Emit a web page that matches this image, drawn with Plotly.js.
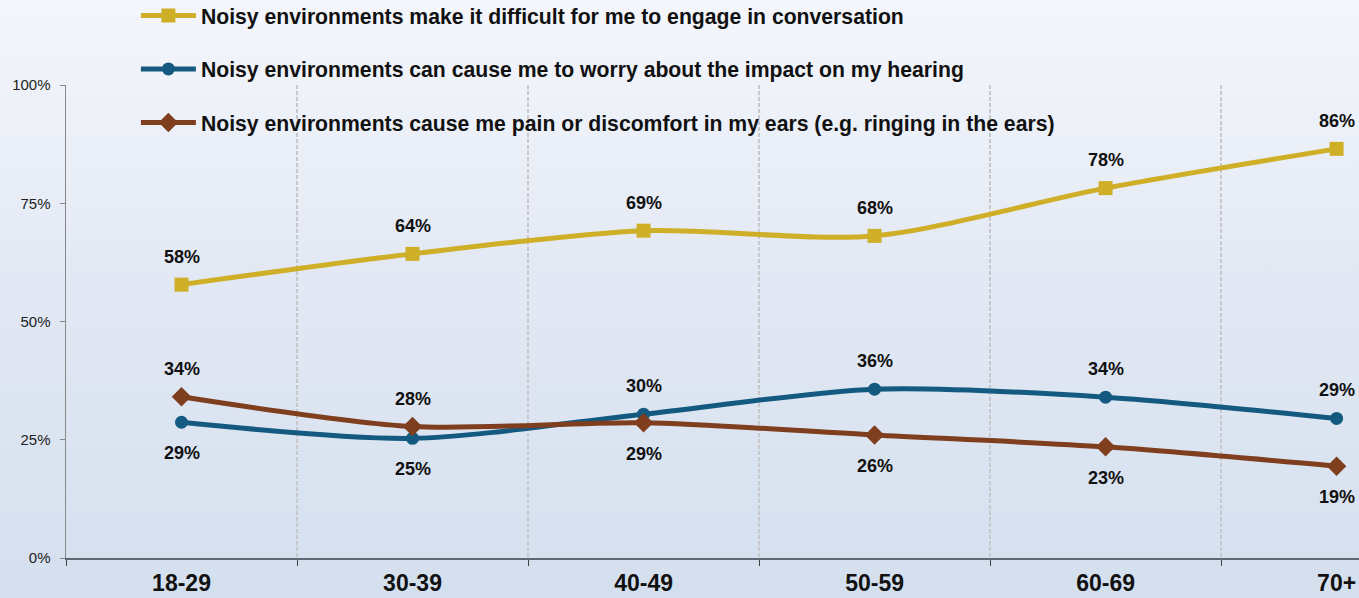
<!DOCTYPE html>
<html>
<head>
<meta charset="utf-8">
<script src="https://cdn.plot.ly/plotly-3.0.1.min.js"></script>
<style>
html,body{margin:0;padding:0;}
body{width:1359px;height:598px;background:linear-gradient(to bottom,#f4f6fb 0%,#e3e9f4 45%,#d4dfee 100%);}
#chart{width:1359px;height:598px;}
</style>
</head>
<body>
<div id="chart"></div>
<script>
const categories = ["18-29","30-39","40-49","50-59","60-69","70+"];
const seriesNames = [
  "Noisy environments make it difficult for me to engage in conversation",
  "Noisy environments can cause me to worry about the impact on my hearing",
  "Noisy environments cause me pain or discomfort in my ears (e.g. ringing in the ears)"
];
const engageValues = [57.8, 64.3, 69.2, 68.1, 78.2, 86.5];
const worryValues  = [28.7, 25.3, 30.4, 35.7, 34.0, 29.5];
const painValues   = [34.1, 27.8, 28.6, 26.0, 23.5, 19.4];
const engageLabels = ["58%","64%","69%","68%","78%","86%"];
const worryLabels  = ["29%","25%","30%","36%","34%","29%"];
const painLabels   = ["34%","28%","29%","26%","23%","19%"];
const engagePos = ["above","above","above","above","above","above"];
const worryPos  = ["below","below","above","above","above","above"];
const painPos   = ["above","above","below","below","below","below"];
const yTickVals = [0,25,50,75,100];
const yTickText = ["0%","25%","50%","75%","100%"];

const colors = ["#CFAE28","#145A80","#7F3F1F"];
const symbols = ["square","circle","diamond"];
const msizes = [14,13,15];
const allValues = [engageValues, worryValues, painValues];
const allLabels = [engageLabels, worryLabels, painLabels];
const allPos = [engagePos, worryPos, painPos];
const FONT = "Liberation Sans, Arial, sans-serif";

const traces = allValues.map((vals,i)=>({
  x: categories, y: vals, type:"scatter", mode:"lines+markers",
  name: seriesNames[i], legendgroup: "g"+i,
  line:{color:colors[i], width:5, shape:"spline", smoothing:0.8},
  marker:{color:colors[i], symbol:symbols[i], size:msizes[i]},
  hoverinfo:"skip", cliponaxis:false
}));

const annotations = [];
allValues.forEach((vals,i)=>{
  vals.forEach((v,j)=>{
    annotations.push({
      x: categories[j], y: v, xref:"x", yref:"y",
      text: allLabels[i][j], showarrow:false,
      yshift: allPos[i][j]==="above" ? 28 : -31,
      font:{family:FONT, size:18, color:"#111", weight:"bold"}
    });
  });
});

const layout = {
  width:1359, height:598,
  margin:{l:66, r:0, t:85, b:40, autoexpand:false},
  paper_bgcolor:"rgba(0,0,0,0)", plot_bgcolor:"rgba(0,0,0,0)",
  font:{family:FONT},
  showlegend:true,
  legend:{
    xref:"container", yref:"paper", x:0.1, y:1.19, xanchor:"left", yanchor:"top",
    bgcolor:"rgba(0,0,0,0)", traceorder:"grouped", tracegroupgap:23, itemwidth:55,
    font:{family:FONT, size:21.2, color:"#111", weight:"bold"}
  },
  xaxis:{
    type:"category", range:[-0.5, 5.097], fixedrange:true,
    showline:true, linecolor:"#5f6670", linewidth:1.5,
    ticks:"outside", ticklen:6, tickcolor:"#404040", tickson:"boundaries",
    showgrid:true, gridcolor:"#c6c8cc", griddash:"4px,2px", gridwidth:1.2,
    tickfont:{family:FONT, size:23, color:"#111", weight:"bold"},
    ticklabelstandoff:4,
    zeroline:false
  },
  yaxis:{
    range:[0,100], tickvals:yTickVals, ticktext:yTickText,
    showline:true, linecolor:"#888888", linewidth:1.5,
    ticks:"outside", ticklen:5, tickcolor:"#888888",
    showgrid:false, zeroline:false, ticklabelstandoff:6,
    tickfont:{family:FONT, size:15, color:"#222"}
  },
  annotations: annotations
};

Plotly.newPlot("chart", traces, layout, {displayModeBar:false, staticPlot:true});
</script>
</body>
</html>
